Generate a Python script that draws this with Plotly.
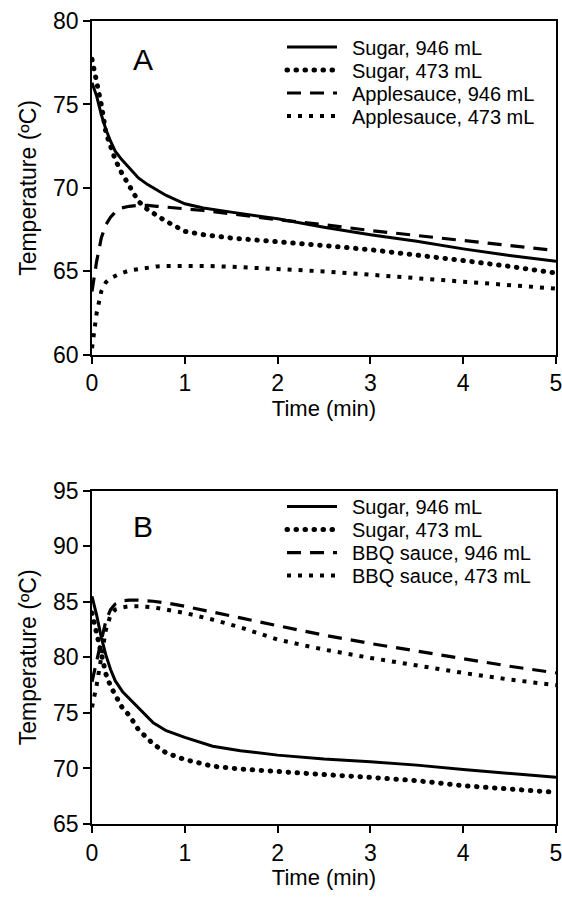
import plotly.graph_objects as go

# ---------------- Panel A data ----------------
time_a = [0, 0.05, 0.1, 0.15, 0.2, 0.25, 0.32, 0.4, 0.5, 0.6, 0.7, 0.8, 1.0, 1.2, 1.5,
          2.0, 2.5, 3.0, 3.5, 4.0, 4.5, 5.0]
sugar946_a = [76.3, 75.5, 74.4, 73.5, 72.8, 72.2, 71.7, 71.2, 70.6, 70.2, 69.85, 69.55, 69.05, 68.8, 68.55,
              68.15, 67.65, 67.2, 66.8, 66.35, 65.95, 65.6]
sugar473_a = [77.7, 76.5, 75.0, 73.3, 72.4, 71.7, 70.9, 70.1, 69.2, 68.7, 68.35, 68.0, 67.4, 67.2, 67.0,
              66.8, 66.55, 66.3, 66.0, 65.65, 65.3, 64.9]
apple946_a = [63.8, 65.6, 67.0, 67.8, 68.25, 68.55, 68.8, 68.9, 68.95, 68.95, 68.9, 68.85, 68.75, 68.65, 68.45,
              68.1, 67.8, 67.45, 67.15, 66.85, 66.55, 66.25]
apple473_a = [60.4, 62.5, 63.8, 64.35, 64.6, 64.75, 64.9, 65.05, 65.15, 65.25, 65.3, 65.33, 65.35, 65.33, 65.28,
              65.15, 65.0, 64.8, 64.6, 64.42, 64.22, 63.97]

# ---------------- Panel B data ----------------
time_b = [0, 0.05, 0.1, 0.15, 0.2, 0.25, 0.33, 0.4, 0.5, 0.66, 0.8, 1.0, 1.3, 1.6, 2.0,
          2.5, 3.0, 3.5, 4.0, 4.5, 5.0]
sugar946_b = [85.5, 83.8, 81.8, 80.2, 78.9, 77.9, 76.9, 76.3, 75.4, 74.1, 73.4, 72.8, 72.0, 71.6, 71.2,
              70.85, 70.6, 70.3, 69.9, 69.55, 69.2]
sugar473_b = [84.0, 82.0, 80.0, 78.5, 77.4, 76.6, 75.4, 74.8, 73.5, 72.2, 71.4, 70.8, 70.2, 69.95, 69.7,
              69.45, 69.2, 68.9, 68.45, 68.15, 67.85]
bbq946_b = [77.8, 79.5, 81.5, 83.3, 84.3, 84.8, 85.1, 85.15, 85.15, 85.05, 84.9, 84.6, 84.1, 83.55, 82.85,
            82.0, 81.25, 80.55, 79.85, 79.2, 78.6]
bbq473_b = [75.5, 77.5, 80.0, 82.5, 83.8, 84.3, 84.5, 84.6, 84.6, 84.5, 84.3, 84.0, 83.4, 82.7, 81.6,
            80.7, 79.95, 79.25, 78.6, 78.0, 77.5]

names_a = ["Sugar, 946 mL", "Sugar, 473 mL", "Applesauce, 946 mL", "Applesauce, 473 mL"]
names_b = ["Sugar, 946 mL", "Sugar, 473 mL", "BBQ sauce, 946 mL", "BBQ sauce, 473 mL"]

tick_x = [0, 1, 2, 3, 4, 5]
ticks_a = [60, 65, 70, 75, 80]
ticks_b = [65, 70, 75, 80, 85, 90, 95]

FONT = "Liberation Sans, Arial, Helvetica, sans-serif"
ROUND_DOT = "0.5px,8.5px"
styles = [
    dict(width=3, dash="solid"),
    dict(width=5, dash=ROUND_DOT),
    dict(width=3.2, dash="14px,9px"),
    dict(width=4, dash="4px,7px"),
]

fig = go.Figure()
for name, ys, st in zip(names_a, [sugar946_a, sugar473_a, apple946_a, apple473_a], styles):
    fig.add_trace(go.Scatter(x=time_a, y=ys, mode="lines", name=name,
                             line=dict(color="black", **st), xaxis="x", yaxis="y", legend="legend"))
for name, ys, st in zip(names_b, [sugar946_b, sugar473_b, bbq946_b, bbq473_b], styles):
    fig.add_trace(go.Scatter(x=time_b, y=ys, mode="lines", name=name,
                             line=dict(color="black", **st), xaxis="x2", yaxis="y2", legend="legend2"))

W, H = 562, 902
ML, MR, MT, MB = 92, 6, 20.5, 77.7
PW, PH = W - ML - MR, H - MT - MB


def px(xp):
    return (xp - ML) / PW


def py(yp):
    return (H - MB - yp) / PH


ydom_a = [py(354.7), 1]
ydom_b = [0, py(490.7)]

axis_common = dict(showline=True, linecolor="black", linewidth=1.8, mirror=True,
                   ticks="outside", ticklen=7, tickwidth=1.8, tickcolor="black",
                   showgrid=False, zeroline=False,
                   ticklabeloverflow="allow",
                   tickfont=dict(family=FONT, size=23, color="black"))

fig.update_layout(
    width=W, height=H,
    margin=dict(l=ML, r=MR, t=MT, b=MB, autoexpand=False),
    paper_bgcolor="white", plot_bgcolor="white",
    font=dict(family=FONT, color="black"),
    xaxis=dict(domain=[0, 1], range=[0, 5], tickvals=tick_x, anchor="y", automargin=True,
               title=dict(text="Time (min)", font=dict(size=22), standoff=2), **axis_common),
    yaxis=dict(domain=ydom_a, range=[60, 80], tickvals=ticks_a, anchor="x", automargin=False,
               title=dict(text="Temperature (ºC)", font=dict(size=23), standoff=10), **axis_common),
    xaxis2=dict(domain=[0, 1], range=[0, 5], tickvals=tick_x, anchor="y2", automargin=True,
                title=dict(text="Time (min)", font=dict(size=22), standoff=2), **axis_common),
    yaxis2=dict(domain=ydom_b, range=[65, 95], tickvals=ticks_b, anchor="x2", automargin=False,
                title=dict(text="Temperature (ºC)", font=dict(size=23), standoff=10), **axis_common),
    legend=dict(x=px(312), y=py(27), xanchor="left", yanchor="top",
                bgcolor="rgba(0,0,0,0)", font=dict(size=20, family=FONT),
                tracegroupgap=0, itemwidth=30),
    legend2=dict(x=px(312), y=py(487), xanchor="left", yanchor="top",
                 bgcolor="rgba(0,0,0,0)", font=dict(size=20, family=FONT),
                 tracegroupgap=0, itemwidth=30),
    annotations=[
        dict(text="A", x=px(143), y=py(59), xref="paper", yref="paper",
             xanchor="center", yanchor="middle",
             showarrow=False, font=dict(size=30, family=FONT)),
        dict(text="B", x=px(143), y=py(527), xref="paper", yref="paper",
             xanchor="center", yanchor="middle",
             showarrow=False, font=dict(size=30, family=FONT)),
    ],
    showlegend=True,
)

post = """
(function(){
  function fix(){
    document.querySelectorAll('path.js-line').forEach(function(p){
      var d = (p.style.strokeDasharray || '').replace(/\\s/g,'');
      if (d === '0.5px,8.5px') { p.style.strokeLinecap = 'round'; }
    });
    document.querySelectorAll('g.infolayer > g').forEach(function(lg){
      var cls = lg.getAttribute('class') || '';
      if (cls.indexOf('legend') !== 0) return;
      lg.removeAttribute('clip-path');
      lg.querySelectorAll('[clip-path]').forEach(function(e){ e.removeAttribute('clip-path'); });
      var items = Array.prototype.slice.call(lg.querySelectorAll('g.traces'));
      var parsed = items.map(function(it){
        var t = it.getAttribute('transform') || 'translate(0,0)';
        var m = t.match(/translate\\(([-\\d.e]+)[ ,]+([-\\d.e]+)\\)/);
        return {el: it, x: m ? parseFloat(m[1]) : 0, y: m ? parseFloat(m[2]) : 0};
      });
      parsed.sort(function(a,b){ return a.y - b.y; });
      if (!parsed.length) return;
      var y0 = parsed[0].y;
      parsed.forEach(function(o, i){
        o.el.setAttribute('transform', 'translate(' + o.x + ',' + (y0 + i*23) + ')');
        o.el.querySelectorAll('g.legendlines path').forEach(function(p){ p.setAttribute('d', 'M-25,0h50'); });
      });
    });
  }
  fix();
  var gd = document.getElementById('{plot_id}');
  if (gd && gd.on) { gd.on('plotly_afterplot', fix); }
})();
"""
fig.write_html("out.html", post_script=post)
